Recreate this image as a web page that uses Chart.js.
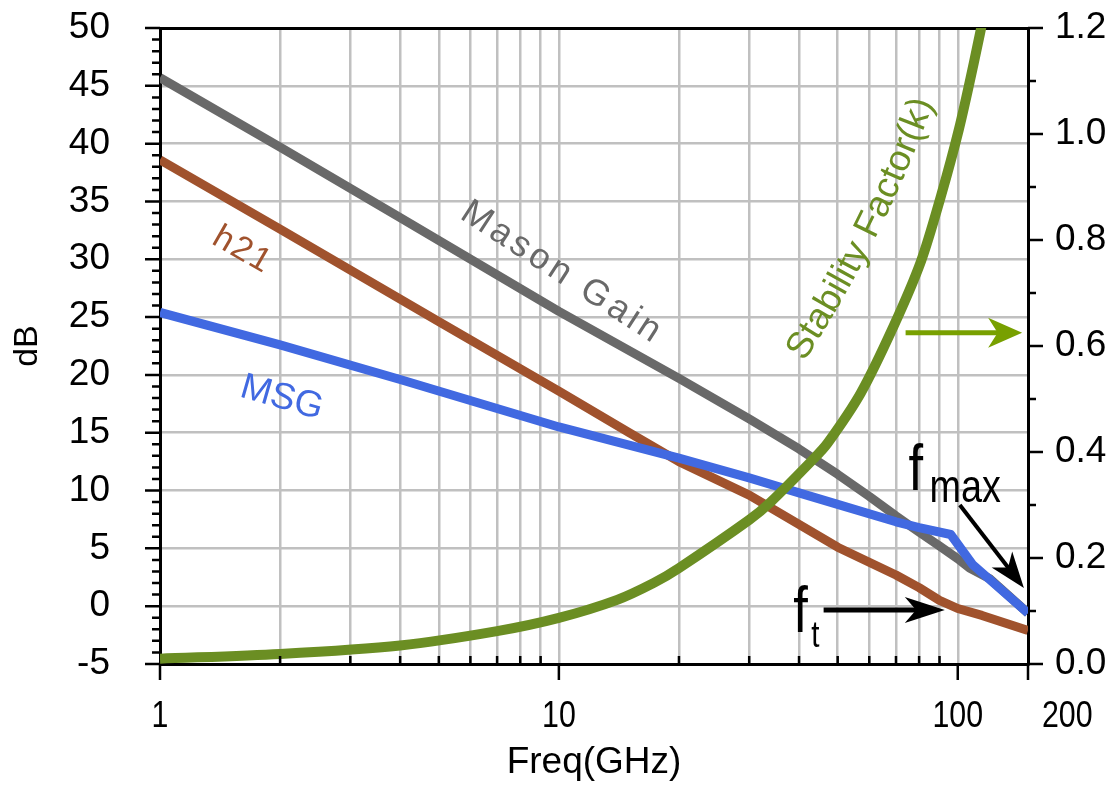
<!DOCTYPE html>
<html>
<head>
<meta charset="UTF-8">
<title>Gain vs Frequency</title>
<script src="https://cdn.jsdelivr.net/npm/chart.js"></script>
<style>
  html, body { margin: 0; padding: 0; background: #fff; }
  #wrap { width: 1117px; height: 796px; }
</style>
</head>
<body>
<div id="wrap"><canvas id="chart"></canvas></div>
<script>
// values (frequency in GHz)
const masonFreq = [1, 2, 4, 10, 20, 30, 40, 50, 60, 70, 80, 90, 100, 107, 120, 150];
const masonGain = [45.7, 39.7, 33.6, 25.5, 19.7, 16.2, 13.6, 11.4, 9.5, 7.8, 6.4, 5.2, 4.1, 3.3, 2.4, -0.6];

const h21Freq = [1, 2, 5, 10, 15, 20, 30, 50, 70, 80, 90, 100, 115, 150];
const h21Gain = [38.6, 32.6, 24.6, 18.6, 15.0, 12.5, 9.6, 5.1, 2.7, 1.6, 0.5, -0.2, -0.8, -2.1];

const msgFreq = [1, 2, 4, 10, 20, 30, 40, 50, 70, 80, 96, 109, 150];
const msgGain = [25.4, 22.6, 19.6, 15.5, 12.8, 11.1, 9.8, 8.8, 7.3, 6.8, 6.2, 3.6, -0.6];

const kFreq = [1, 2, 4, 7, 10, 14, 17.3, 20, 30, 34, 43.5, 47.2, 57.1, 69.1, 80.8, 90.6, 100.6, 109.7, 117.6];
const kFactor = [0.01, 0.019, 0.035, 0.062, 0.087, 0.121, 0.153, 0.181, 0.272, 0.306, 0.387, 0.417, 0.511, 0.638, 0.759, 0.881, 1.008, 1.134, 1.243];

// axes
const xGrid = [1, 2, 3, 4, 5, 6, 7, 8, 9, 10, 20, 30, 40, 50, 60, 70, 80, 90, 100, 150];
const xMajor = [1, 10, 100, 150];
const xLabels = ['1', '10', '100', '200'];
const dbTicks = [-5, 0, 5, 10, 15, 20, 25, 30, 35, 40, 45, 50];
const kTicks = [0, 0.2, 0.4, 0.6, 0.8, 1.0, 1.2];

const FONT = '"Liberation Sans", Arial, sans-serif';
const pts = (xs, ys) => xs.map((v, i) => ({ x: v, y: ys[i] }));

function rotText(ctx, text, px, py, deg, size, color, spacing) {
  ctx.save();
  ctx.translate(px, py);
  ctx.rotate(deg * Math.PI / 180);
  ctx.font = size + 'px ' + FONT;
  ctx.letterSpacing = (spacing || 0) + 'px';
  ctx.fillStyle = color;
  ctx.textAlign = 'center';
  ctx.textBaseline = 'middle';
  ctx.fillText(text, (spacing || 0) / 2, 0);
  ctx.restore();
}

function narrowText(ctx, text, px, py, size, align) {
  ctx.save();
  ctx.translate(px, py);
  ctx.scale(0.82, 1);
  ctx.font = size + 'px ' + FONT;
  ctx.fillStyle = '#000';
  ctx.textAlign = align || 'left';
  ctx.textBaseline = 'alphabetic';
  ctx.fillText(text, 0, 0);
  ctx.restore();
}

// text bent along a gentle curve, angle going from a0 to a1
function curveText(ctx, text, cx, cy, a0, a1, size, color) {
  ctx.save();
  ctx.font = size + 'px ' + FONT;
  const chars = [...text];
  const widths = chars.map(c => ctx.measureText(c).width);
  const total = widths.reduce((s, w) => s + w, 0);
  let px = 0, py = 0, s = 0;
  const placed = [];
  chars.forEach((c, i) => {
    const w = widths[i];
    const ang = (a0 + (a1 - a0) * (s + w / 2) / total) * Math.PI / 180;
    placed.push({ c, x: px + Math.cos(ang) * w / 2, y: py + Math.sin(ang) * w / 2, ang });
    px += Math.cos(ang) * w;
    py += Math.sin(ang) * w;
    s += w;
  });
  const ox = cx - px / 2, oy = cy - py / 2;
  ctx.fillStyle = color;
  ctx.textAlign = 'center';
  ctx.textBaseline = 'middle';
  placed.forEach(p => {
    ctx.save();
    ctx.translate(ox + p.x, oy + p.y);
    ctx.rotate(p.ang);
    ctx.fillText(p.c, 0, 0);
    ctx.restore();
  });
  ctx.restore();
}

function arrow(ctx, x0, y0, x1, y1, color, w, len, half) {
  const ang = Math.atan2(y1 - y0, x1 - x0);
  ctx.save();
  ctx.translate(x1, y1);
  ctx.rotate(ang);
  const d = Math.hypot(x1 - x0, y1 - y0);
  ctx.strokeStyle = color;
  ctx.fillStyle = color;
  ctx.lineWidth = w;
  ctx.beginPath();
  ctx.moveTo(-d, 0);
  ctx.lineTo(-len * 0.7, 0);
  ctx.stroke();
  ctx.beginPath();
  ctx.moveTo(0, 0);
  ctx.lineTo(-len, -half);
  ctx.lineTo(-len * 0.72, 0);
  ctx.lineTo(-len, half);
  ctx.closePath();
  ctx.fill();
  ctx.restore();
}

const decor = {
  id: 'decor',
  afterDraw(chart) {
    const { ctx, chartArea: a, scales: { x, y, y1 } } = chart;
    ctx.save();
    // tick marks
    ctx.strokeStyle = '#000';
    ctx.lineWidth = 2.5;
    ctx.beginPath();
    xGrid.forEach(v => {
      const px = x.getPixelForValue(v);
      if (xMajor.includes(v)) { ctx.moveTo(px, a.bottom); ctx.lineTo(px, a.bottom + 16); }
      else { ctx.moveTo(px, a.bottom); ctx.lineTo(px, a.bottom - 8); }
    });
    for (let v = -5; v <= 50; v++) {
      const py = y.getPixelForValue(v);
      ctx.moveTo(a.left, py);
      ctx.lineTo(a.left - (v % 5 === 0 ? 15 : 8), py);
    }
    for (let i = 0; i <= 12; i++) {
      const py = y1.getPixelForValue(i / 10);
      ctx.moveTo(a.right, py);
      ctx.lineTo(a.right + (i % 2 === 0 ? 15 : 8), py);
    }
    ctx.stroke();

    // x tick labels (the last one sits to the right of its tick)
    xMajor.forEach((v, i) => {
      const px = x.getPixelForValue(v);
      if (i === xMajor.length - 1) narrowText(ctx, xLabels[i], px + 14, a.bottom + 63, 37, 'left');
      else narrowText(ctx, xLabels[i], px, a.bottom + 63, 37, 'center');
    });

    // curve labels
    rotText(ctx, 'Mason Gain', x.getPixelForValue(10.1), y.getPixelForValue(28.9), 33, 36, '#696969', 4);
    rotText(ctx, 'h21', x.getPixelForValue(1.6), y.getPixelForValue(30.8), 30, 34, '#a0522d', 2);
    rotText(ctx, 'MSG', x.getPixelForValue(2.02), y.getPixelForValue(18.0), 16, 37, '#4169e1', 0);
    curveText(ctx, 'Stability Factor(k)', x.getPixelForValue(56.8), y.getPixelForValue(32.7), -57, -70, 37, '#6b8e23');

    // arrow to the right axis
    arrow(ctx, x.getPixelForValue(74), y1.getPixelForValue(0.625), x.getPixelForValue(145), y1.getPixelForValue(0.625), '#78a000', 5, 34, 15);

    // fmax
    let fx = x.getPixelForValue(75.3), fy = y.getPixelForValue(10.05);
    narrowText(ctx, 'f', fx, fy, 64, 'left');
    narrowText(ctx, 'max', fx + 21, fy + 12, 46, 'left');
    arrow(ctx, x.getPixelForValue(101.2), y.getPixelForValue(8.75), x.getPixelForValue(146.5), y.getPixelForValue(1.57), '#000', 4, 36, 13);

    // ft
    fx = x.getPixelForValue(38.7); fy = y.getPixelForValue(-2.23);
    narrowText(ctx, 'f', fx, fy, 64, 'left');
    narrowText(ctx, 't', fx + 18, fy + 15, 36, 'left');
    arrow(ctx, x.getPixelForValue(46.1), y.getPixelForValue(-0.33), x.getPixelForValue(92.8), y.getPixelForValue(-0.33), '#000', 5, 40, 13);
    ctx.restore();
  }
};

const gridGray = '#c0c0c0';
const noPad = s => { s.paddingTop = 0; s.paddingBottom = 0; s.paddingLeft = 0; s.paddingRight = 0; };

new Chart(document.getElementById('chart'), {
  type: 'line',
  data: {
    datasets: [
      { label: 'Stability Factor(k)', data: pts(kFreq, kFactor), yAxisID: 'y1', borderColor: '#6b8e23', borderWidth: 10, order: 1, tension: 0.3 },
      { label: 'MSG', data: pts(msgFreq, msgGain), yAxisID: 'y', borderColor: '#4169e1', borderWidth: 9, order: 2 },
      { label: 'Mason Gain', data: pts(masonFreq, masonGain), yAxisID: 'y', borderColor: '#696969', borderWidth: 9, order: 3 },
      { label: 'h21', data: pts(h21Freq, h21Gain), yAxisID: 'y', borderColor: '#a0522d', borderWidth: 9, order: 4 }
    ]
  },
  options: {
    responsive: true,
    maintainAspectRatio: false,
    animation: false,
    devicePixelRatio: 1,
    layout: { padding: { top: 28, left: 0, right: 0, bottom: 0 } },
    elements: { point: { radius: 0 }, line: { fill: false, tension: 0, borderJoinStyle: 'round' } },
    datasets: { line: { clip: 0 } },
    plugins: { legend: { display: false }, tooltip: { enabled: false } },
    scales: {
      x: {
        type: 'logarithmic',
        min: 1,
        max: 150,
        afterBuildTicks: s => { s.ticks = xGrid.map(v => ({ value: v })); },
        afterFit: s => { s.height = 132; noPad(s); },
        ticks: { display: false },
        grid: {
          drawTicks: false,
          lineWidth: 2.5,
          color: c => (c.tick && (c.tick.value === 1 || c.tick.value === 150)) ? 'rgba(0,0,0,0)' : gridGray
        },
        border: { display: true, color: '#000', width: 3 },
        title: { display: true, text: 'Freq(GHz)', color: '#000', font: { family: FONT, size: 37 }, padding: { bottom: 11 } }
      },
      y: {
        position: 'left',
        min: -5,
        max: 50,
        afterBuildTicks: s => { s.ticks = dbTicks.map(v => ({ value: v })); },
        afterFit: s => { s.width = 160; noPad(s); },
        ticks: { color: '#000', font: { family: FONT, size: 37 }, padding: 50 },
        grid: {
          drawTicks: false,
          lineWidth: c => (c.tick && c.tick.value === 50) ? 3 : 2.5,
          color: c => {
            if (!c.tick) return gridGray;
            if (c.tick.value === 50) return '#000';
            if (c.tick.value === -5) return 'rgba(0,0,0,0)';
            return gridGray;
          }
        },
        border: { display: true, color: '#000', width: 3 },
        title: { display: true, text: 'dB', color: '#000', font: { family: FONT, size: 34 }, padding: { top: 7 } }
      },
      y1: {
        position: 'right',
        min: 0,
        max: 1.2,
        afterBuildTicks: s => { s.ticks = kTicks.map(v => ({ value: v })); },
        afterFit: s => { s.width = 89; noPad(s); },
        ticks: { color: '#000', font: { family: FONT, size: 37 }, padding: 27, callback: v => Number(v).toFixed(1) },
        grid: { drawOnChartArea: false, drawTicks: false },
        border: { display: true, color: '#000', width: 3 }
      }
    }
  },
  plugins: [decor]
});
</script>
</body>
</html>
